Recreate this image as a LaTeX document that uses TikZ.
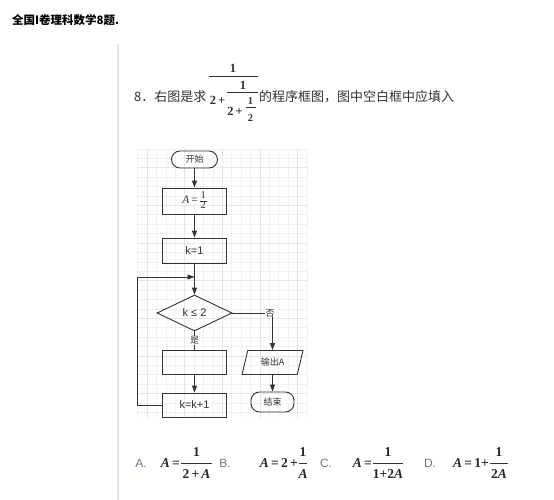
\documentclass[tikz,border=0pt]{standalone}
\usepackage{fontspec}
\setmainfont{Liberation Serif}
\newfontfamily\cjk{Noto Sans CJK SC}
\newfontfamily\lsans{Liberation Sans}
\usetikzlibrary{arrows.meta,shapes.geometric,calc}
\definecolor{ink}{HTML}{333333}
\definecolor{gridminor}{HTML}{F1F1F1}
\definecolor{gridmajor}{HTML}{E6E6E6}
\definecolor{optlab}{HTML}{6A7896}
\definecolor{rulec}{HTML}{E4E4E4}
\newcommand\vfr[2]{$\vcenter{\hbox{\renewcommand\arraystretch{0.8}\begin{tabular}{@{\kern0.8pt}c@{\kern0.8pt}}#1\\\hline #2\end{tabular}}}$}
\begin{document}
\begin{tikzpicture}[x=1pt,y=-1pt,
  box/.style={draw=ink, line width=0.9pt, minimum width=64pt, minimum height=25pt, inner sep=0pt, text=ink},
  term/.style={draw=ink, line width=0.9pt, rounded corners=8.5pt, inner sep=0pt, text=ink},
  arr/.style={draw=ink, line width=0.9pt, -{Triangle[length=7pt,width=5pt]}},
  ln/.style={draw=ink, line width=0.9pt},
  fl/.style={font=\lsans\fontsize{11}{13}\selectfont},
  fc/.style={font=\cjk\fontsize{9}{11}\selectfont},
  sf/.style={font=\bfseries\fontsize{12.5}{14}\selectfont, text=ink, inner sep=0pt},
  ssf/.style={font=\bfseries\fontsize{10.5}{12}\selectfont, text=ink, inner sep=0pt},
  fbar/.style={draw=ink, line width=0.7pt},
  opm/.style={font=\bfseries\fontsize{13.5}{15}\selectfont, text=black!85, inner sep=0pt},
  optl/.style={font=\lsans\fontsize{12}{14}\selectfont, text=optlab, inner sep=0pt},
  ptxt/.style={font=\cjk\fontsize{13}{15}\selectfont, text=ink, inner sep=0pt, anchor=west}
]
\fill[white] (0,0) rectangle (554,500);
\useasboundingbox (0,0) rectangle (554,500);

% title and side rule
\node[anchor=west, inner sep=0pt, font=\cjk\bfseries\fontsize{11.5}{13}\selectfont, text=black] (title) at (12,20) {全国I卷理科数学8题.};
\draw[rulec, line width=1.5pt] (118,44) -- (118,500);

% problem statement
\node[ptxt] (p1) at (134,97) {8．右图是求};
\node[sf] (n1) at (233,68.5) {1};
\draw[fbar] (209,76.7) -- (258.3,76.7);
\node[sf] (d2) at (217.5,100) {2\,+};
\node[sf] (n2) at (243,85.5) {1};
\draw[fbar] (227.3,92.7) -- (258.3,92.7);
\node[sf] (d3) at (235,111) {2\,+};
\node[ssf] (n3) at (250.5,101) {1};
\draw[fbar] (245.5,107.5) -- (255.5,107.5);
\node[ssf] (d4) at (250.5,118.5) {2};
\node[ptxt] (p2) at (259,97) {的程序框图，图中空白框中应填入};

% grid
\foreach \i in {0,...,18} \draw[gridminor, line width=0.6pt] ({137.6+9.41*\i},148.9) -- ({137.6+9.41*\i},418);
\foreach \j in {0,...,28} \draw[gridminor, line width=0.6pt] (137.6,{148.9+9.41*\j}) -- (307,{148.9+9.41*\j});
\foreach \i in {0,...,4} \draw[gridmajor, line width=0.7pt] ({147+37.64*\i},148.9) -- ({147+37.64*\i},418);
\foreach \j in {0,...,6} \draw[gridmajor, line width=0.7pt] (137.6,{167.7+37.64*\j}) -- (307,{167.7+37.64*\j});

% flowchart nodes
\node[term, fc, minimum width=46pt, minimum height=17pt] (start) at (194.5,159.5) {开始};
\node[box, minimum height=26pt, font=\fontsize{11.5}{13}\selectfont] (seta) at (194.5,201) {\textit{A}\,=\,{\fontsize{10.5}{11}\selectfont\vfr{1}{2}}};
\node[box, fl] (k1) at (194.5,250.5) {k=1};
\node[diamond, draw=ink, line width=0.9pt, minimum width=75pt, minimum height=36pt, inner sep=0pt, fl, text=ink] (cond) at (194.5,313) {k ≤ 2};
\node[box, minimum height=24pt] (blank) at (194.5,362) {};
\node[box, fl, minimum height=24pt] (kk) at (194.5,405) {k=k+1};
\node[trapezium, trapezium left angle=72, trapezium right angle=108, trapezium stretches=true, draw=ink, line width=0.9pt, minimum width=61pt, minimum height=24pt, inner sep=0pt, fc, text=ink] (out) at (272.5,362.5) {输出A};
\node[term, fc, minimum width=43pt, minimum height=20pt] (end) at (272.5,402) {结束};

% connectors
\draw[arr] (start) -- (seta);
\draw[arr] (seta) -- (k1);
\draw[arr] (k1) -- (cond);
\coordinate (lx) at (137,277);
\draw[arr] (kk.west) -- (kk.west -| lx) -- (lx) -- (lx -| cond.north);
\draw[ln] (cond.south) -- node[fill=white, inner sep=0.6pt, fc, text=ink] (yes) {是} (blank.north);
\draw[arr] (blank) -- (kk);
\coordinate (nc) at (cond.east -| out.north);
\draw[arr] (cond.east) -- (nc) -- (out.north);
\node[fill=white, inner sep=0.4pt, fc, text=ink] (no) at ($(nc)+(-2.5,0)$) {否};
\draw[arr] (out) -- (end);

% options
\node[optl] (la) at (141,463) {A.};
\node[opm, anchor=east] (ea) at (180,463) {\textit{A}\,=};
\draw[fbar] (181,463) -- (212,463);
\node[opm] (na) at (196.5,452.5) {1};
\node[opm] (da) at (196.5,474) {2\,+\,\textit{A}};

\node[optl] (lb) at (225,463) {B.};
\node[opm, anchor=east] (eb) at (298,463) {\textit{A}\,=\,2\,+};
\draw[fbar] (299,463) -- (307,463);
\node[opm] (nb) at (303,452.5) {1};
\node[opm] (db) at (303,474) {\textit{A}};

\node[optl] (lc) at (326,463) {C.};
\node[opm, anchor=east] (ec) at (372,463) {\textit{A}\,=};
\draw[fbar] (373,463) -- (403,463);
\node[opm] (nc1) at (388,452.5) {1};
\node[opm] (dc) at (388,474) {1+2\textit{A}};

\node[optl] (ld) at (430,463) {D.};
\node[opm, anchor=east] (ed) at (489,463) {\textit{A}\,=\,1+};
\draw[fbar] (490,463) -- (508,463);
\node[opm] (nd) at (499,452.5) {1};
\node[opm] (dd) at (499,474) {2\textit{A}};
\end{tikzpicture}
\end{document}
